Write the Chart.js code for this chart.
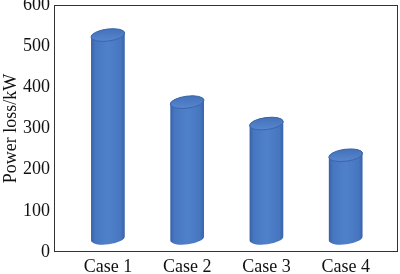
<!DOCTYPE html>
<html>
<head>
<meta charset="utf-8">
<script src="https://cdn.jsdelivr.net/npm/chart.js@4"></script>
<style>
  html, body { margin: 0; padding: 0; background: #fff; }
  #wrap { width: 400px; height: 274px; }
</style>
</head>
<body>
<div id="wrap"><canvas id="lossChart"></canvas></div>
<script>
// chart data
const CASES = ['Case 1', 'Case 2', 'Case 3', 'Case 4'];
const CASE_POS = [1, 2, 3, 4];
const POWER_LOSS = [527, 364, 312, 235];
const Y_TICKS = [0, 100, 200, 300, 400, 500, 600];
const CYL_BASE = 33; // cylinders stand a little above zero (3D floor)

const FONT = "'Liberation Serif', 'Times New Roman', serif";

// draws the frame and the cylinders on top of the (invisible) bars
const cylinderPlugin = {
    id: 'cylinders',
    afterDatasetsDraw(chart) {
        const ctx = chart.ctx;
        const area = chart.chartArea;

        ctx.save();
        ctx.strokeStyle = '#333';
        ctx.lineWidth = 1;
        ctx.strokeRect(area.left + 0.5, area.top + 0.5, area.right - area.left - 1, area.bottom - area.top - 1);
        ctx.restore();

        const meta = chart.getDatasetMeta(0);
        meta.data.forEach(bar => {
            const p = bar.getProps(['x', 'y', 'base', 'width'], true);
            const cx = p.x, rx = p.width / 2, ry = 6, rot = -0.13;

            const grad = ctx.createLinearGradient(cx - rx, 0, cx + rx, 0);
            grad.addColorStop(0, '#3760a6');
            grad.addColorStop(0.12, '#4676bf');
            grad.addColorStop(0.5, '#4f81ca');
            grad.addColorStop(0.88, '#4676bf');
            grad.addColorStop(1, '#3962a9');

            ctx.save();
            ctx.beginPath();
            ctx.ellipse(cx, p.base, rx, ry, rot, 0, Math.PI, false);
            ctx.ellipse(cx, p.y, rx, ry, rot, Math.PI, Math.PI * 2, false);
            ctx.closePath();
            ctx.fillStyle = grad;
            ctx.fill();

            // top face
            const tgrad = ctx.createLinearGradient(0, p.y - ry, 0, p.y + ry);
            tgrad.addColorStop(0, '#4572ba');
            tgrad.addColorStop(1, '#5686cd');
            ctx.beginPath();
            ctx.ellipse(cx, p.y, rx, ry, rot, 0, Math.PI * 2);
            ctx.fillStyle = tgrad;
            ctx.fill();
            ctx.strokeStyle = '#3b65ac';
            ctx.lineWidth = 1;
            ctx.stroke();
            ctx.restore();
        });
    }
};

new Chart(document.getElementById('lossChart'), {
    type: 'bar',
    data: {
        datasets: [{
            data: CASE_POS.map((x, i) => ({ x: x, y: POWER_LOSS[i] })),
            base: CYL_BASE,
            backgroundColor: 'rgba(0,0,0,0)',
            borderWidth: 0,
            barThickness: 34
        }]
    },
    options: {
        responsive: true,
        maintainAspectRatio: false,
        animation: false,
        layout: { padding: { top: 5, right: 2, left: 0, bottom: 0 } },
        plugins: {
            legend: { display: false },
            tooltip: { enabled: false }
        },
        scales: {
            x: {
                type: 'linear',
                offset: false,
                min: 0.32,
                max: 4.66,
                grid: { display: false, drawTicks: false },
                border: { display: false },
                afterBuildTicks: axis => { axis.ticks = CASE_POS.map(v => ({ value: v })); },
                afterFit: axis => { axis.height = 22; axis.paddingLeft = 0; axis.paddingRight = 0; },
                ticks: {
                    color: '#111',
                    font: { family: FONT, size: 18 },
                    padding: 4,
                    maxRotation: 0,
                    autoSkip: false,
                    callback: v => CASES[CASE_POS.indexOf(v)]
                }
            },
            y: {
                min: 0,
                max: 600,
                afterBuildTicks: axis => { axis.ticks = Y_TICKS.map(v => ({ value: v })); },
                afterFit: axis => { axis.width = 54; axis.paddingTop = 0; axis.paddingBottom = 0; },
                grid: { display: false, drawTicks: false },
                border: { display: false },
                ticks: {
                    color: '#111',
                    font: { family: FONT, size: 18 },
                    padding: 4
                },
                title: {
                    display: true,
                    text: 'Power loss/kW',
                    color: '#111',
                    font: { family: FONT, size: 18 },
                    padding: 0
                }
            }
        }
    },
    plugins: [cylinderPlugin]
});
</script>
</body>
</html>
